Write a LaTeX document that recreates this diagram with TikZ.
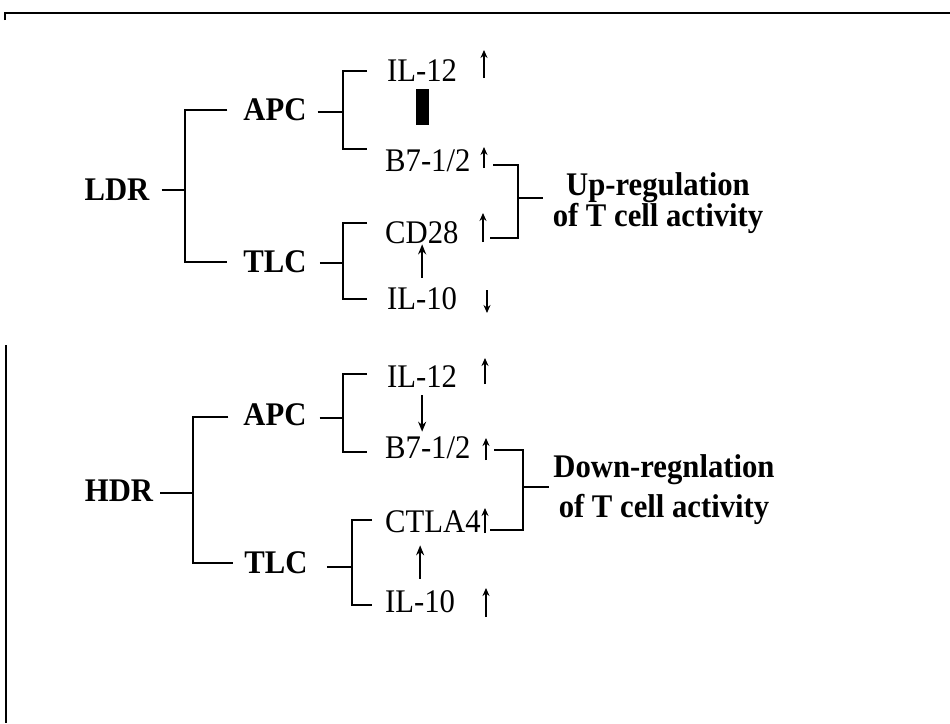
\documentclass[tikz,border=0pt]{standalone}
\usepackage{fontspec}
\setmainfont{Liberation Serif}[FakeStretch=0.93]
\usetikzlibrary{arrows.meta}

\begin{document}
\begin{tikzpicture}[x=1pt, y=-1pt,
    lbl/.style={inner sep=0pt, font=\fontsize{33}{33}\selectfont\bfseries},
    gn/.style={inner sep=0pt, anchor=west, font=\fontsize{33}{33}\selectfont},
    ln/.style={line width=1.3pt},
    arr/.style={-{Stealth[length=10pt, width=8pt]}, line width=2pt},
    mk/.style={-{Stealth[length=8pt, width=7pt]}, line width=1.8pt}
  ]
  \useasboundingbox (0,0) rectangle (950,723);
  % frame
  \draw[line width=2pt] (5,20) -- (5,13) -- (950,13);
  \draw[line width=1.3pt] (6,345) -- (6,723);

  % LDR
  \node[lbl] (ldr)  at (117,190) {LDR};
  \node[lbl] (apc1) at (275,110) {APC};
  \node[lbl] (tlc1) at (275,262) {TLC};
  \node[gn] (il12a) at (387,71)  {IL-12};
  \node[gn] (b7a)   at (385,161) {B7-1/2};
  \node[gn] (cd28)  at (385,233) {CD28};
  \node[gn] (il10a) at (387,299) {IL-10};
  \node[lbl, align=center, font=\fontsize{33}{24}\selectfont\bfseries]
        (upreg) at (658,203) {Up-regulation\\of T cell activity};
  \coordinate (j1) at (185,190);
  \coordinate (j2) at (343,112);
  \coordinate (j3) at (343,263);
  \draw[ln, shorten <=12pt] (ldr.east) -- (j1);
  \draw[ln, shorten <=16pt, shorten >=16pt] (apc1.west) -| (j1) |- (tlc1.west);
  \draw[ln, shorten <=11pt] ([yshift=-2pt]apc1.east) -- (j2);
  \draw[ln, shorten <=20pt, shorten >=18pt]
        (il12a.west) -| (j2) |- ([yshift=12pt]b7a.west);
  \draw[ln, shorten <=13pt] ([yshift=-1pt]tlc1.east) -- (j3);
  \draw[ln, shorten <=18pt, shorten >=20pt]
        ([yshift=10pt]cd28.west) -| (j3) |- (il10a.west);
  \draw[arr, shorten <=10pt] (il10a.north) -- (il10a.north |- cd28.south);
  \fill (416,89) rectangle (429,125);
  \draw[mk] (484,78) -- (484,50);
  \draw[mk] (484,168) -- (484,147);
  \draw[mk] (483,242) -- (483,213);
  \draw[mk] (487,290) -- (487,313);
  \coordinate (r1a) at (493,165);
  \coordinate (r1b) at (490,238);
  \coordinate (r1m) at (518,198);
  \draw[ln] (r1a) -| (r1m) |- (r1b);
  \draw[ln, shorten >=10pt] (r1m) -- (r1m -| upreg.west);

  % HDR
  \node[lbl] (hdr)  at (119,491) {HDR};
  \node[lbl] (apc2) at (275,415) {APC};
  \node[lbl] (tlc2) at (276,563) {TLC};
  \node[gn] (il12b) at (387,377) {IL-12};
  \node[gn] (b7b)   at (385,448) {B7-1/2};
  \node[gn] (ctla4) at (385,522) {CTLA4};
  \node[gn] (il10b) at (385,602) {IL-10};
  \node[lbl, align=center, font=\fontsize{33}{40}\selectfont\bfseries]
        (dnreg) at (664,490) {Down-regnlation\\of T cell activity};
  \coordinate (j4) at (193,493);
  \coordinate (j5) at (343,418);
  \coordinate (j6) at (352,567);
  \draw[ln, shorten <=7pt] ([yshift=-2pt]hdr.east) -- (j4);
  \draw[ln, shorten <=15pt, shorten >=11pt]
        ([yshift=-2pt]apc2.west) -| (j4) |- (tlc2.west);
  \draw[ln, shorten <=13pt] ([yshift=-3pt]apc2.east) -- (j5);
  \draw[ln, shorten <=20pt, shorten >=18pt]
        ([yshift=3pt]il12b.west) -| (j5) |- ([yshift=-4pt]b7b.west);
  \draw[ln, shorten <=19pt] ([yshift=-4pt]tlc2.east) -- (j6);
  \draw[ln, shorten <=13pt, shorten >=13pt]
        ([yshift=2pt]ctla4.west) -| (j6) |- ([yshift=-3pt]il10b.west);
  \draw[arr, shorten <=7pt, shorten >=5pt] (il12b.south) -- (il12b.south |- b7b.north);
  \draw[arr, shorten <=12pt, shorten >=12pt] (il10b.north) -- (il10b.north |- ctla4.south);
  \draw[mk] (485,384) -- (485,358);
  \draw[mk] (486,460) -- (486,438);
  \draw[mk] (485,533) -- (485,508);
  \draw[mk] (486,617) -- (486,588);
  \coordinate (r2a) at (494,450);
  \coordinate (r2b) at (490,530);
  \coordinate (r2m) at (523,487);
  \draw[ln] (r2a) -| (r2m) |- (r2b);
  \draw[ln, shorten >=4pt] (r2m) -- (r2m -| dnreg.west);
\end{tikzpicture}
\end{document}
